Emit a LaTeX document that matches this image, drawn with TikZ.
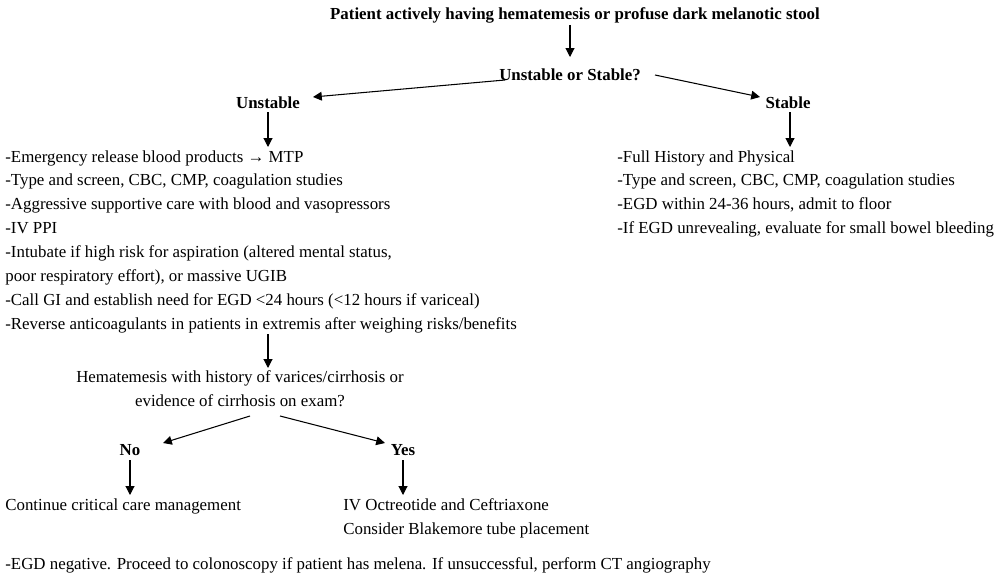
\documentclass[tikz,border=0pt]{standalone}
\usepackage{fontspec}
\setmainfont{Liberation Serif}
\usetikzlibrary{arrows.meta}
\begin{document}
\begin{tikzpicture}[x=0.02cm,y=-0.02cm,
  every node/.style={inner sep=0pt,font=\fontsize{9.6}{13.6}\selectfont},
  bt/.style={font=\fontsize{9.6}{13.6}\selectfont\bfseries},
  blk/.style={align=left,anchor=north west},
  arr/.style={-{Triangle[length=5pt,width=5pt]},line width=0.6pt}]
\useasboundingbox (0,0) rectangle (1000,581);
\node[bt] (title) at (575,15) {Patient actively having hematemesis or profuse dark melanotic stool};
\node[bt] (q) at (570,75) {Unstable or Stable?};
\node[bt] (uns) at (268,103) {Unstable};
\node[bt] (st) at (788,103) {Stable};
\node[blk] (L) at (5,150) {-Emergency release blood products → MTP\\
-Type and screen, CBC, CMP, coagulation studies\\
-Aggressive supportive care with blood and vasopressors\\
-IV PPI\\
-Intubate if high risk for aspiration (altered mental status,\\
poor respiratory effort), or massive UGIB\\
-Call GI and establish need for EGD <24 hours (<12 hours if variceal)\\
-Reverse anticoagulants in patients in extremis after weighing risks/benefits};
\node[blk] (R) at (617,150) {-Full History and Physical\\
-Type and screen, CBC, CMP, coagulation studies\\
-EGD within 24-36 hours, admit to floor\\
-If EGD unrevealing, evaluate for small bowel bleeding};
\node[align=center] (h) at (240,389) {Hematemesis with history of varices/cirrhosis or\\evidence of cirrhosis on exam?};
\node[bt] (no) at (130,450) {No};
\node[bt] (yes) at (403,450) {Yes};
\node[anchor=west] (cc) at (5,506) {Continue critical care management};
\node[blk] (oc) at (343,498) {IV Octreotide and Ceftriaxone\\Consider Blakemore tube placement};
\node[anchor=west] (egd) at (5,565) {-EGD negative. Proceed to colonoscopy if patient has melena. If unsuccessful, perform CT angiography};
\coordinate (t1) at (570,25); \coordinate (q1) at (570,57);
\draw[arr] (t1) -- (q1);
\coordinate (qa) at (505,80); \coordinate (ua) at (313,97);
\draw[arr] (qa) -- (ua);
\coordinate (qb) at (655,75); \coordinate (sb) at (760,97);
\draw[arr] (qb) -- (sb);
\coordinate (u1) at (268,112); \coordinate (u2) at (268,147);
\draw[arr] (u1) -- (u2);
\coordinate (s1) at (790,112); \coordinate (s2) at (790,147);
\draw[arr] (s1) -- (s2);
\coordinate (l1) at (268,334); \coordinate (l2) at (268,368);
\draw[arr] (l1) -- (l2);
\coordinate (h1) at (250,416); \coordinate (n1) at (163,443);
\draw[arr] (h1) -- (n1);
\coordinate (h2) at (280,416); \coordinate (y1) at (385,443);
\draw[arr] (h2) -- (y1);
\coordinate (n2) at (130,460); \coordinate (n3) at (130,495);
\draw[arr] (n2) -- (n3);
\coordinate (y2) at (403,460); \coordinate (y3) at (403,495);
\draw[arr] (y2) -- (y3);
\end{tikzpicture}
\end{document}
